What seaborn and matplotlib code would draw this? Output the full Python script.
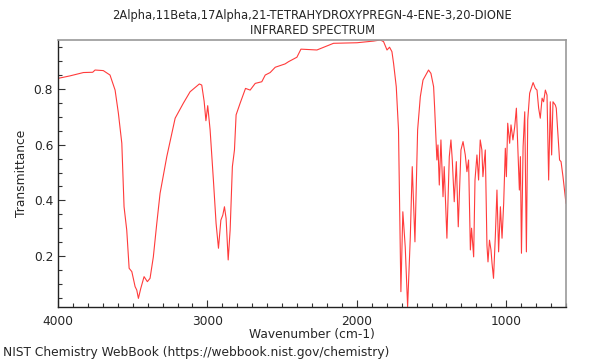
import numpy as np
import pandas as pd
import matplotlib
matplotlib.use("Agg")
import matplotlib.pyplot as plt
import seaborn as sns
from matplotlib.ticker import MultipleLocator

# IR spectrum (wavenumber in cm-1, transmittance)
wavenumber = [4000, 3920, 3830, 3768, 3752, 3697, 3652, 3618, 3596, 3573,
              3558, 3540, 3524, 3506, 3484, 3473, 3462, 3446, 3424, 3402,
              3384, 3362, 3339, 3317, 3272, 3216, 3161, 3116, 3054, 3038,
              3022, 3010, 2998, 2982, 2960, 2942, 2926, 2910, 2897, 2886,
              2875, 2861, 2848, 2833, 2819, 2808, 2781, 2745, 2714, 2680,
              2636, 2613, 2580, 2546, 2480, 2457, 2401, 2374, 2267, 2156,
              1999, 1888, 1843, 1821, 1798, 1781, 1765, 1754, 1736, 1721,
              1705, 1692, 1676, 1660, 1642, 1629, 1611, 1593, 1575, 1557,
              1520, 1504, 1486, 1479, 1464, 1457, 1448, 1437, 1423, 1415,
              1397, 1381, 1370, 1361, 1348, 1334, 1321, 1303, 1289, 1274,
              1263, 1252, 1240, 1232, 1218, 1209, 1196, 1185, 1174, 1163,
              1156, 1140, 1129, 1122, 1112, 1102, 1095, 1085, 1073, 1062,
              1051, 1039, 1028, 1017, 1006, 999, 990, 977, 968, 955,
              943, 932, 923, 912, 905, 898, 887, 876, 865, 856,
              843, 833, 820, 805, 794, 783, 772, 760, 750, 738,
              727, 716, 705, 696, 687, 671, 665, 643, 633, 620, 600]
transmittance = [0.838, 0.847, 0.859, 0.860, 0.868, 0.866, 0.850, 0.796, 0.713, 0.605,
                 0.377, 0.293, 0.156, 0.144, 0.090, 0.078, 0.048, 0.084, 0.126, 0.108,
                 0.120, 0.197, 0.317, 0.425, 0.557, 0.695, 0.749, 0.790, 0.818, 0.814,
                 0.756, 0.686, 0.740, 0.653, 0.473, 0.317, 0.228, 0.329, 0.347, 0.377,
                 0.335, 0.186, 0.293, 0.521, 0.581, 0.707, 0.749, 0.802, 0.796, 0.820,
                 0.826, 0.850, 0.859, 0.878, 0.890, 0.898, 0.914, 0.943, 0.940, 0.964,
                 0.966, 0.972, 0.976, 0.970, 0.940, 0.950, 0.934, 0.892, 0.808, 0.653,
                 0.072, 0.359, 0.233, 0.018, 0.269, 0.521, 0.251, 0.653, 0.772, 0.832,
                 0.868, 0.856, 0.808, 0.731, 0.545, 0.599, 0.455, 0.617, 0.413, 0.521,
                 0.264, 0.557, 0.617, 0.545, 0.395, 0.539, 0.305, 0.581, 0.611, 0.563,
                 0.503, 0.545, 0.222, 0.300, 0.197, 0.473, 0.563, 0.473, 0.617, 0.581,
                 0.485, 0.581, 0.239, 0.179, 0.257, 0.222, 0.174, 0.120, 0.269, 0.437,
                 0.215, 0.377, 0.264, 0.389, 0.587, 0.485, 0.677, 0.605, 0.671, 0.617,
                 0.665, 0.731, 0.599, 0.437, 0.557, 0.210, 0.593, 0.718, 0.215, 0.689,
                 0.785, 0.802, 0.823, 0.802, 0.796, 0.731, 0.695, 0.767, 0.754, 0.796,
                 0.778, 0.473, 0.754, 0.563, 0.754, 0.742, 0.731, 0.545, 0.539, 0.485, 0.389]

title = "2Alpha,11Beta,17Alpha,21-TETRAHYDROXYPREGN-4-ENE-3,20-DIONE\nINFRARED SPECTRUM"
xticks = [4000, 3000, 2000, 1000]
yticks = [0.2, 0.4, 0.6, 0.8]

df = pd.DataFrame({"wn": wavenumber, "T": transmittance})

sns.set_style("white")
plt.rcParams["font.family"] = ["DejaVu Sans"]

fig = plt.figure(figsize=(6, 3.6), dpi=100)
ax = fig.add_axes([0.0967, 0.147, 0.8466, 0.742])
sns.lineplot(data=df, x="wn", y="T", sort=False, color="#ff3b3b", lw=0.8, ax=ax)

ax.set_xlim(4000, 600)
ax.set_ylim(0.0167, 0.976)
ax.set_xticks(xticks)
ax.set_yticks(yticks)
ax.xaxis.set_minor_locator(MultipleLocator(100))
ax.yaxis.set_minor_locator(MultipleLocator(0.05))
ax.tick_params(which="both", bottom=True, left=True, top=False, right=False,
               direction="in", labelsize=8.8, color="#333333", width=0.8)
ax.tick_params(which="major", length=5)
ax.tick_params(which="minor", length=3)
ax.tick_params(axis="x", pad=6)

for s in ["top", "right"]:
    ax.spines[s].set_color("#999999")
    ax.spines[s].set_linewidth(1.2)
for s in ["left", "bottom"]:
    ax.spines[s].set_color("#222222")
    ax.spines[s].set_linewidth(1.0)

ax.set_xlabel("Wavenumber (cm-1)", fontsize=8.8, labelpad=0)
ax.set_ylabel("Transmittance", fontsize=8.8)
ax.set_title(title, fontsize=8.3, linespacing=1.25, pad=4)
fig.text(0.005, 0.012, "NIST Chemistry WebBook (https://webbook.nist.gov/chemistry)", fontsize=8.8)

fig.savefig("out.png", dpi=100)
